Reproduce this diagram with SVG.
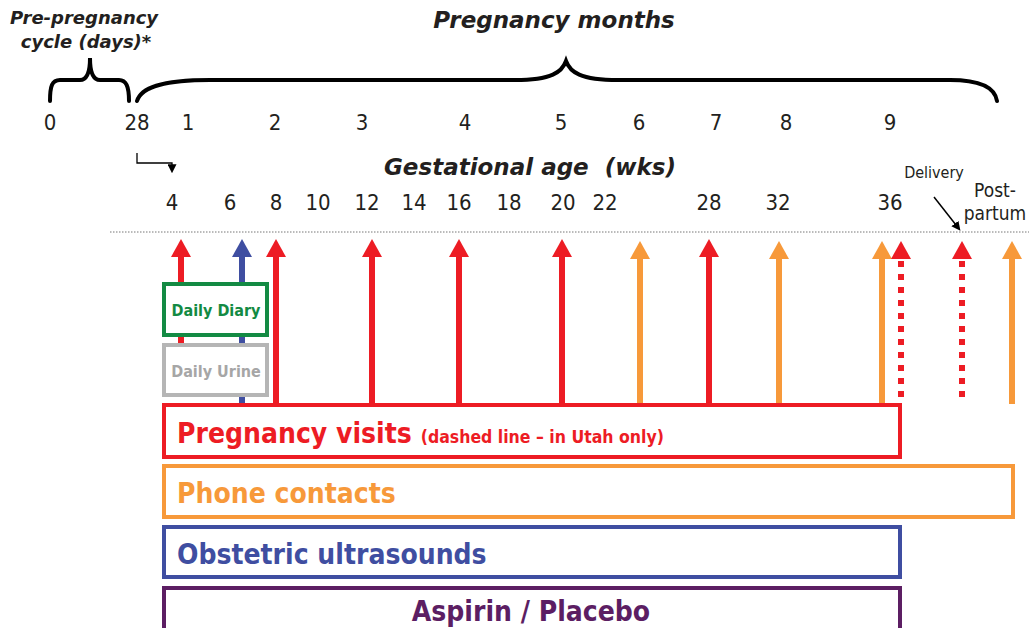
<svg xmlns="http://www.w3.org/2000/svg" width="1029" height="628" viewBox="0 0 1029 628">
<style>
.title{font-family:"DejaVu Sans","Liberation Sans",sans-serif;font-weight:bold;font-style:italic;fill:#231f20}
.num{font-family:"DejaVu Sans Condensed","DejaVu Sans","Liberation Sans",sans-serif;font-size:22px;fill:#231f20;text-anchor:middle}
.small{font-family:"DejaVu Sans Condensed","DejaVu Sans","Liberation Sans",sans-serif;fill:#231f20}
.lbl{font-family:"DejaVu Sans Condensed","DejaVu Sans","Liberation Sans",sans-serif;font-weight:bold}
.brace{fill:none;stroke:#000;stroke-width:4;stroke-linecap:round}
.box{fill:#fff;stroke-width:4}
.shaft{stroke-width:6;fill:none}
.red{stroke:#ed1c24}
.org{stroke:#f7993a}
.blu{stroke:#3f4ea1}
.dash{stroke-dasharray:6 7}
</style>
<defs>
<marker id="hr" markerUnits="userSpaceOnUse" viewBox="0 0 18 20" markerWidth="18" markerHeight="20" refX="0" refY="10" orient="auto"><path d="M0,0 L18,10 L0,20 z" fill="#ed1c24"/></marker>
<marker id="ho" markerUnits="userSpaceOnUse" viewBox="0 0 18 20" markerWidth="18" markerHeight="20" refX="0" refY="10" orient="auto"><path d="M0,0 L18,10 L0,20 z" fill="#f7993a"/></marker>
<marker id="hb" markerUnits="userSpaceOnUse" viewBox="0 0 18 20" markerWidth="18" markerHeight="20" refX="0" refY="10" orient="auto"><path d="M0,0 L18,10 L0,20 z" fill="#3f4ea1"/></marker>
<marker id="hk" markerUnits="userSpaceOnUse" viewBox="0 0 10 10" markerWidth="9" markerHeight="9" refX="2" refY="5" orient="auto"><path d="M0,0 L10,5 L0,10 z" fill="#000"/></marker>
</defs>

<g id="headers">
<text class="title" x="84" y="24" font-size="18" text-anchor="middle">Pre-pregnancy</text>
<text class="title" x="86" y="48" font-size="18" text-anchor="middle">cycle (days)*</text>
<text class="title" x="554" y="28" font-size="23" text-anchor="middle">Pregnancy months</text>
<text class="title" x="530" y="175" font-size="23" text-anchor="middle" xml:space="preserve">Gestational age  (wks)</text>
</g>

<g id="braces">
<path class="brace" d="M50,101 C50,86 52,80 60,80 L80,80 C87,80 90,72 90,58 C90,72 93,80 100,80 L119,80 C126,80 129,86 129,101"/>
<path class="brace" d="M137,101 C141,88 160,80 210,80 L515,80 C552,80 562,72 566,61 C570,72 580,80 618,80 L950,80 C982,80 995,88 997,101"/>
</g>

<g id="month-axis">
<text class="num" x="50" y="130">0</text>
<text class="num" x="137" y="130">28</text>
<text class="num" x="188" y="130">1</text>
<text class="num" x="275" y="130">2</text>
<text class="num" x="362" y="130">3</text>
<text class="num" x="465" y="130">4</text>
<text class="num" x="561" y="130">5</text>
<text class="num" x="639" y="130">6</text>
<text class="num" x="716" y="130">7</text>
<text class="num" x="786" y="130">8</text>
<text class="num" x="890" y="130">9</text>
</g>

<g id="week-axis">
<text class="num" x="172" y="210">4</text>
<text class="num" x="230" y="210">6</text>
<text class="num" x="276" y="210">8</text>
<text class="num" x="318" y="210">10</text>
<text class="num" x="367" y="210">12</text>
<text class="num" x="414" y="210">14</text>
<text class="num" x="459" y="210">16</text>
<text class="num" x="509" y="210">18</text>
<text class="num" x="563" y="210">20</text>
<text class="num" x="605" y="210">22</text>
<text class="num" x="709" y="210">28</text>
<text class="num" x="778" y="210">32</text>
<text class="num" x="890" y="210">36</text>
<text class="small" x="934" y="178" font-size="16" text-anchor="middle">Delivery</text>
<text class="small" x="995" y="197" font-size="19" text-anchor="middle">Post-</text>
<text class="small" x="995" y="220" font-size="19" text-anchor="middle">partum</text>
<line x1="110" y1="232" x2="1029" y2="232" stroke="#777" stroke-width="1" stroke-dasharray="1.5 1.5"/>
</g>

<g id="connectors">
<polyline points="137,153 137,163 172,163 172,166" fill="none" stroke="#000" stroke-width="1.3" marker-end="url(#hk)"/>
<line x1="934" y1="197" x2="956" y2="225" stroke="#000" stroke-width="1.5" marker-end="url(#hk)"/>
<line class="shaft red" x1="181" y1="344" x2="181" y2="257" marker-end="url(#hr)"/>
<line class="shaft blu" x1="242" y1="404" x2="242" y2="257" marker-end="url(#hb)"/>
<line class="shaft red" x1="276" y1="404" x2="276" y2="257" marker-end="url(#hr)"/>
<line class="shaft red" x1="372" y1="404" x2="372" y2="257" marker-end="url(#hr)"/>
<line class="shaft red" x1="459" y1="404" x2="459" y2="257" marker-end="url(#hr)"/>
<line class="shaft red" x1="562" y1="404" x2="562" y2="257" marker-end="url(#hr)"/>
<line class="shaft org" x1="640" y1="404" x2="640" y2="259" marker-end="url(#ho)"/>
<line class="shaft red" x1="709" y1="404" x2="709" y2="257" marker-end="url(#hr)"/>
<line class="shaft org" x1="779" y1="404" x2="779" y2="259" marker-end="url(#ho)"/>
<line class="shaft org" x1="882" y1="404" x2="882" y2="259" marker-end="url(#ho)"/>
<line class="shaft red dash" x1="901" y1="397" x2="901" y2="259" marker-end="url(#hr)"/>
<line class="shaft red dash" x1="962" y1="397" x2="962" y2="259" marker-end="url(#hr)"/>
<line class="shaft org" x1="1012" y1="404" x2="1012" y2="259" marker-end="url(#ho)"/>
</g>

<g id="daily-diary">
<rect class="box" x="164" y="284" width="103" height="51" stroke="#138a43"/>
<text class="lbl" x="216" y="316" font-size="16" fill="#138a43" text-anchor="middle">Daily Diary</text>
</g>
<g id="daily-urine">
<rect class="box" x="164" y="345" width="103" height="50" stroke="#b5b5b5"/>
<text class="lbl" x="216" y="377" font-size="16" fill="#a6a6a6" text-anchor="middle">Daily Urine</text>
</g>
<g id="pregnancy-visits">
<rect class="box" x="164" y="405" width="736" height="52" stroke="#ed1c24"/>
<text class="lbl" x="177" y="443" fill="#ed1c24"><tspan font-size="28">Pregnancy visits</tspan><tspan font-size="17.5" dx="9">(dashed line – in Utah only)</tspan></text>
</g>
<g id="phone-contacts">
<rect class="box" x="164" y="466" width="849" height="51" stroke="#f7993a"/>
<text class="lbl" x="177" y="503" font-size="28" fill="#f7993a">Phone contacts</text>
</g>
<g id="obstetric-ultrasounds">
<rect class="box" x="164" y="527" width="736" height="50" stroke="#3f4ea1"/>
<text class="lbl" x="177" y="564" font-size="28" fill="#3f4ea1">Obstetric ultrasounds</text>
</g>
<g id="aspirin-placebo">
<path d="M164,630 L164,588 L900,588 L900,630" fill="#fff" stroke="#5c1e63" stroke-width="4"/>
<text class="lbl" x="531" y="621" font-size="28" fill="#5c1e63" text-anchor="middle">Aspirin / Placebo</text>
</g>
</svg>
